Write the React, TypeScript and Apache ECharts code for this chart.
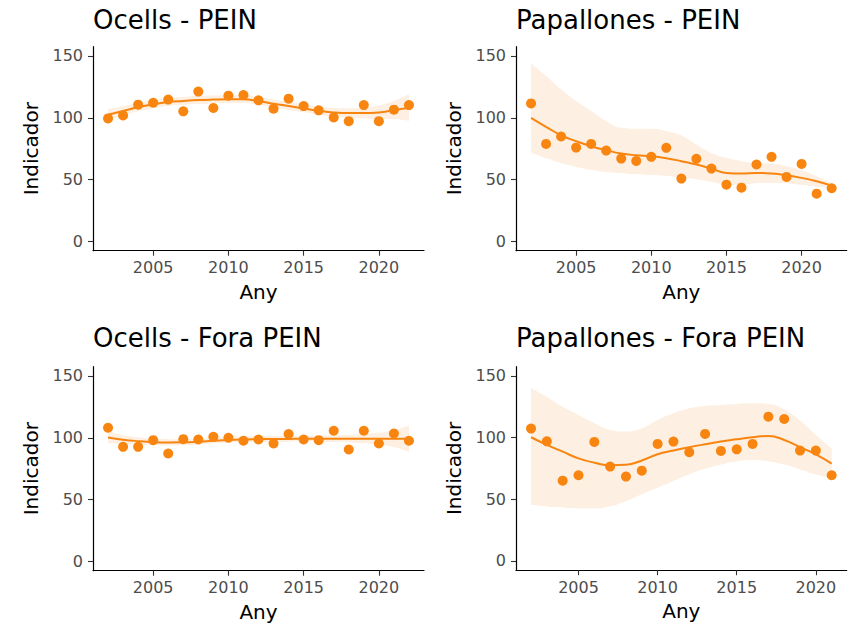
import React, { useEffect, useRef } from "react";
import * as echarts from "echarts";

// ---- data ----
const years = [2002, 2003, 2004, 2005, 2006, 2007, 2008, 2009, 2010, 2011, 2012, 2013, 2014, 2015, 2016, 2017, 2018, 2019, 2020, 2021, 2022];
const yearsPapFora = [2002, 2003, 2004, 2005, 2006, 2007, 2008, 2009, 2010, 2011, 2012, 2013, 2014, 2015, 2016, 2017, 2018, 2019, 2020, 2021];

const titles = ["Ocells - PEIN", "Papallones - PEIN", "Ocells - Fora PEIN", "Papallones - Fora PEIN"];
const xTicks = [2005, 2010, 2015, 2020];
const yTicks = [0, 50, 100, 150];

// Ocells - PEIN
const ocellsPein = [99.5, 101.9, 110.6, 112.2, 114.7, 105.2, 121.2, 107.9, 117.9, 118.4, 114.1, 107.4, 115.5, 109.5, 106, 100.3, 97.3, 110.3, 97.3, 106.6, 110.3];
const ocellsPeinFit = [102.4, 105.5, 108.5, 110.8, 112.7, 113.6, 114.3, 114.7, 114.9, 114.9, 113.5, 111.4, 109.5, 107.6, 105.7, 104.3, 103.8, 103.8, 104.3, 106.2, 108.1];
const ocellsPeinLow = [97.9, 101.5, 104.8, 107.3, 109.3, 110.3, 111, 111.4, 111.6, 111.6, 110.2, 108.1, 106.2, 104.2, 102.2, 100.6, 99.8, 99.2, 98.7, 98.7, 97.1];
const ocellsPeinHigh = [106.9, 109.5, 112.2, 114.3, 116.1, 116.9, 117.6, 118, 118.2, 118.2, 116.8, 114.7, 112.8, 111, 109.2, 108, 107.8, 108.4, 109.9, 113.7, 119.1];

// Papallones - PEIN
const papPein = [111.6, 78.9, 84.9, 75.9, 78.9, 73.5, 67, 65.1, 68.4, 75.7, 50.8, 66.8, 58.9, 45.9, 43.5, 62.2, 68.4, 52.2, 62.7, 38.6, 43];
const papPeinFit = [100, 92.7, 85.9, 81.1, 77, 73.8, 71.1, 69.7, 68.9, 67.3, 64.9, 62.2, 58.9, 55.4, 54.9, 55.4, 54.9, 53.5, 51.4, 48.6, 45.1];
const papPeinLow = [71.6, 66.8, 63, 60, 57.6, 55.9, 54.9, 54.1, 53.5, 52.7, 51.4, 50, 47.8, 45.4, 45.4, 46.8, 47.3, 46.8, 45.4, 44, 43];
const papPeinHigh = [144, 133.8, 123, 113.5, 105.4, 97.3, 91.9, 91.1, 91.1, 89.2, 85.7, 78.4, 71.6, 67.6, 64.9, 63.5, 63, 60.8, 57.6, 52.7, 46.8];

// Ocells - Fora PEIN
const ocellsFora = [108.1, 92.7, 92.7, 98.1, 87.3, 98.9, 98.6, 100.8, 100, 97.6, 98.6, 95.4, 103, 98.6, 98.1, 105.7, 90.5, 105.7, 95.4, 103.5, 97.6];
const ocellsForaFit = [100.3, 98.5, 97.3, 96.5, 96.2, 96.3, 96.8, 97.6, 98.3, 98.7, 98.9, 99, 99.1, 99.2, 99.2, 99.2, 99.2, 99.2, 99.2, 99.2, 99.2];
const ocellsForaLow = [95.3, 94.7, 94.1, 93.6, 93.5, 93.7, 94.3, 95.1, 95.8, 96.2, 96.4, 96.5, 96.6, 96.7, 96.6, 96.4, 96, 95.4, 94.2, 92.2, 88.2];
const ocellsForaHigh = [105.3, 102.3, 100.5, 99.4, 98.9, 98.9, 99.3, 100.1, 100.8, 101.2, 101.4, 101.5, 101.6, 101.7, 101.8, 102, 102.4, 103, 104.2, 106.2, 110.2];

// Papallones - Fora PEIN
const papFora = [107.3, 97, 65.1, 69.5, 96.5, 76.5, 68.4, 73.2, 94.9, 96.8, 88.1, 103, 89.2, 90.5, 94.9, 117, 115.1, 89.5, 89.5, 69.5];
const papForaFit = [100.3, 94.1, 88.6, 83.2, 79.7, 77.6, 78, 81.5, 86.5, 89.5, 92.2, 94.6, 96.8, 98.6, 100.3, 101.4, 98.1, 92.2, 86.5, 78.9];
const papForaLow = [45.4, 44, 43.2, 42.4, 42.4, 44, 48.1, 53.5, 58.9, 64.3, 69.7, 74.3, 77.8, 80.5, 81.4, 80.5, 77.8, 73.8, 69.7, 67];
const papForaHigh = [140, 133, 125, 118.4, 111.6, 106.2, 104.9, 107.6, 114.3, 119.7, 123.8, 125.7, 126.5, 127.3, 127.8, 127.3, 123, 113.8, 102.2, 91.4];

const ORANGE = "#F8850F";
const BAND = "#FDEFE2";
const FONT = "DejaVu Sans";

const panels = [
  { x: years, pts: ocellsPein, fit: ocellsPeinFit, lo: ocellsPeinLow, hi: ocellsPeinHigh, xmin: 2001, xmax: 2023 },
  { x: years, pts: papPein, fit: papPeinFit, lo: papPeinLow, hi: papPeinHigh, xmin: 2001, xmax: 2023 },
  { x: years, pts: ocellsFora, fit: ocellsForaFit, lo: ocellsForaLow, hi: ocellsForaHigh, xmin: 2001, xmax: 2023 },
  { x: yearsPapFora, pts: papFora, fit: papForaFit, lo: papForaLow, hi: papForaHigh, xmin: 2001.05, xmax: 2021.95 },
];

const gridPos = [
  { left: 93, top: 46.7, width: 331, height: 204 },
  { left: 516, top: 46.7, width: 330.7, height: 204 },
  { left: 93, top: 366.7, width: 331, height: 204 },
  { left: 516, top: 366.7, width: 330.7, height: 203.5 },
];
const titlePos = [
  { left: 88, top: 2 },
  { left: 511, top: 2 },
  { left: 88, top: 320 },
  { left: 511, top: 320 },
];

export default function App() {
  const ref = useRef<HTMLDivElement>(null);
  useEffect(() => {
    if (!ref.current) return;
    const chart = echarts.init(ref.current, null, { renderer: "svg" });
    const series: any[] = [];
    panels.forEach((p, i) => {
      // band: upper edge filled down to 0, then masked in white below the lower edge
      series.push({
        type: "line", xAxisIndex: i, yAxisIndex: i, smooth: true,
        data: p.x.map((yr, k) => [yr, p.hi[k]]), showSymbol: false, symbol: "none",
        lineStyle: { width: 0, color: BAND }, areaStyle: { color: BAND, opacity: 1, origin: 0 },
        silent: true, z: 1,
      });
      [-1.5, 1.5].forEach((dx) => {
        series.push({
          type: "line", xAxisIndex: i, yAxisIndex: i, smooth: true,
          data: p.x.map((yr, k) => [yr, p.lo[k]]), showSymbol: false, symbol: "none",
          lineStyle: { width: 0, color: "#ffffff" },
          areaStyle: { color: "#ffffff", opacity: 1, origin: 0, shadowColor: "#ffffff", shadowBlur: 0, shadowOffsetX: dx },
          silent: true, z: 2,
        });
      });
      series.push({
        type: "line", xAxisIndex: i, yAxisIndex: i, smooth: true,
        data: p.x.map((yr, k) => [yr, p.fit[k]]), showSymbol: false, symbol: "none",
        lineStyle: { color: ORANGE, width: 2 }, z: 3,
      });
      series.push({
        type: "scatter", xAxisIndex: i, yAxisIndex: i,
        data: p.x.map((yr, k) => [yr, p.pts[k]]), symbolSize: 10,
        itemStyle: { color: ORANGE, opacity: 1 }, z: 4,
      });
    });

    const option: any = {
      animation: false,
      backgroundColor: "#ffffff",
      textStyle: { fontFamily: FONT },
      title: titles.map((t, i) => ({
        text: t, left: titlePos[i].left, top: titlePos[i].top,
        textStyle: { fontSize: 26, fontWeight: "normal", color: "#000", fontFamily: FONT },
      })),
      grid: gridPos.map((g) => ({ ...g, containLabel: false })),
      xAxis: panels.map((p, i) => ({
        type: "value", gridIndex: i, min: p.xmin, max: p.xmax, z: 10,
        name: "Any", nameLocation: "middle", nameGap: 31,
        nameTextStyle: { fontSize: 20, color: "#000", fontFamily: FONT },
        axisLine: { show: true, onZero: false, lineStyle: { color: "#000", width: 1.2 } },
        axisTick: { show: true, length: 5, customValues: xTicks, lineStyle: { color: "#333", width: 1.1 } },
        axisLabel: { show: true, customValues: xTicks, formatter: (v: number) => String(v), color: "#4D4D4D", fontSize: 16, margin: 9, fontFamily: FONT },
        splitLine: { show: false },
      })),
      yAxis: panels.map((p, i) => ({
        type: "value", gridIndex: i, min: -7.5, max: 157.5, z: 10,
        name: "Indicador", nameLocation: "middle", nameRotate: 90, nameGap: 52,
        nameTextStyle: { fontSize: 20, color: "#000", fontFamily: FONT },
        axisLine: { show: true, onZero: false, lineStyle: { color: "#000", width: 1.2 } },
        axisTick: { show: true, length: 5, customValues: yTicks, lineStyle: { color: "#333", width: 1.1 } },
        axisLabel: { show: true, customValues: yTicks, formatter: (v: number) => String(v), color: "#4D4D4D", fontSize: 16, margin: 10, fontFamily: FONT },
        splitLine: { show: false },
      })),
      series,
    };
    chart.setOption(option);
    return () => chart.dispose();
  }, []);
  return <div ref={ref} style={{ position: "fixed", left: 0, top: 0, width: 856, height: 625, background: "#fff" }} />;
}
